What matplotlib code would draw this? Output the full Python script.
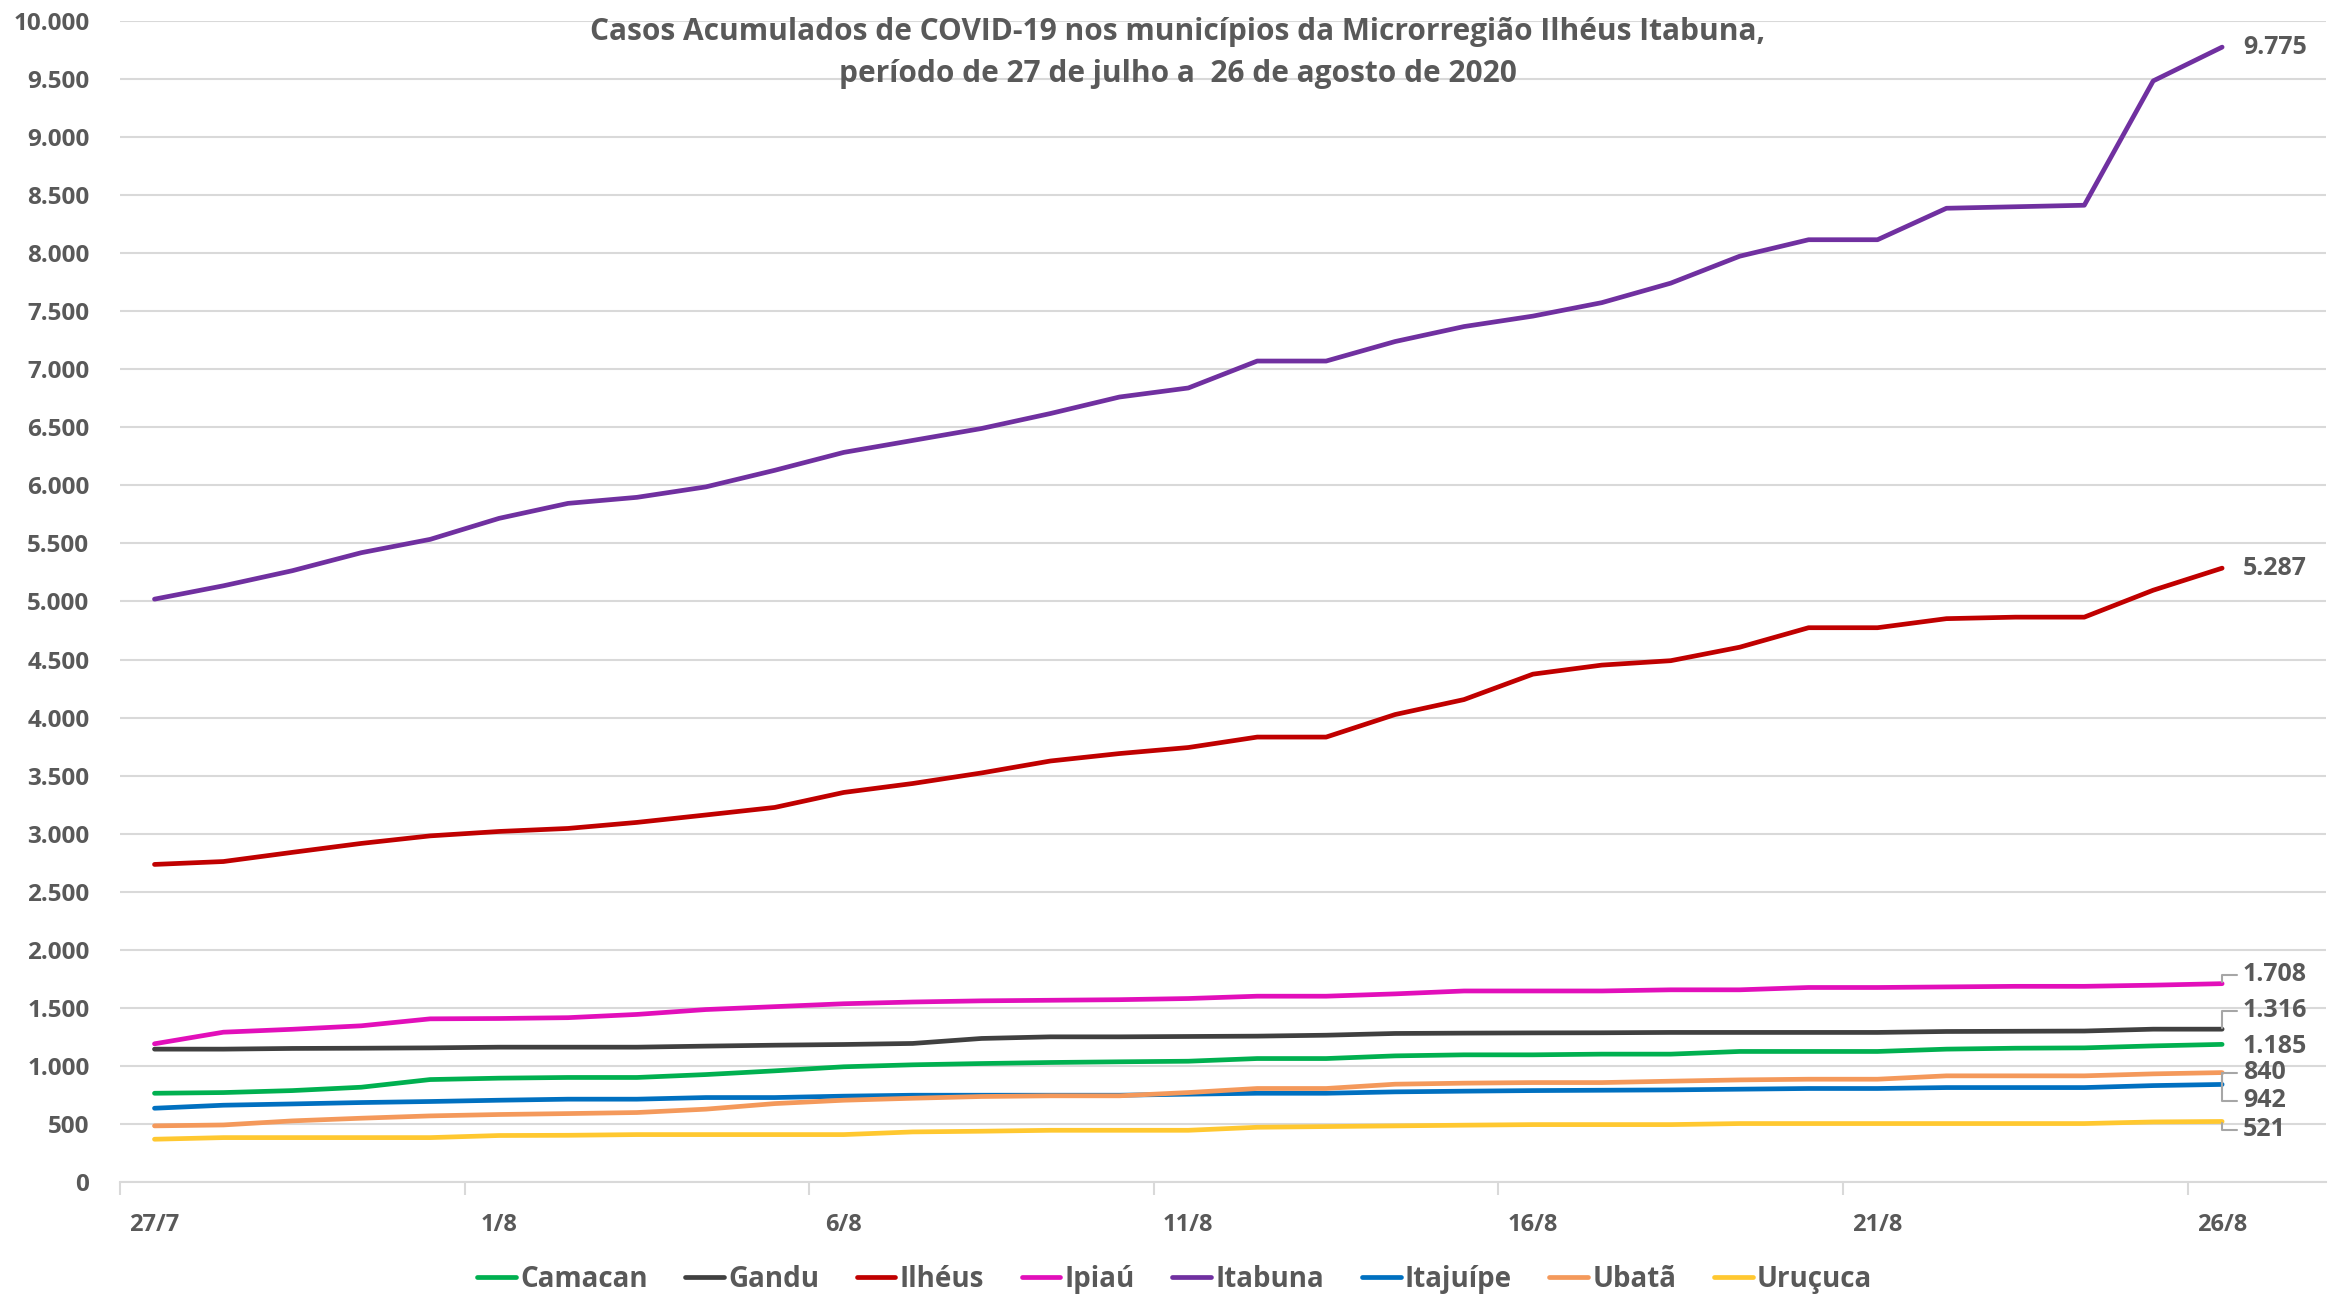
import matplotlib
matplotlib.use("Agg")
import matplotlib.pyplot as plt
from matplotlib.ticker import FixedLocator, FuncFormatter

plt.rcParams['font.family'] = ['Open Sans', 'DejaVu Sans']

dates = ["27/7", "28/7", "29/7", "30/7", "31/7", "1/8", "2/8", "3/8", "4/8", "5/8",
         "6/8", "7/8", "8/8", "9/8", "10/8", "11/8", "12/8", "13/8", "14/8", "15/8",
         "16/8", "17/8", "18/8", "19/8", "20/8", "21/8", "22/8", "23/8", "24/8", "25/8", "26/8"]

camacan = [764, 770, 787, 816, 882, 894, 900, 900, 925, 957, 992, 1009, 1020, 1029, 1035, 1040,
           1063, 1063, 1086, 1095, 1095, 1101, 1101, 1124, 1124, 1124, 1144, 1152, 1155, 1172, 1185]
gandu = [1144, 1144, 1150, 1152, 1155, 1161, 1161, 1161, 1170, 1178, 1184, 1193, 1236, 1250, 1250, 1253,
         1256, 1264, 1279, 1282, 1284, 1285, 1288, 1288, 1288, 1288, 1296, 1298, 1300, 1316, 1316]
ilheus = [2735, 2760, 2839, 2916, 2981, 3019, 3045, 3097, 3161, 3226, 3355, 3432, 3523, 3626, 3690, 3742,
          3832, 3832, 4026, 4155, 4374, 4452, 4490, 4606, 4774, 4774, 4852, 4865, 4865, 5097, 5287]
ipiau = [1190, 1290, 1315, 1345, 1405, 1408, 1415, 1443, 1485, 1510, 1535, 1550, 1560, 1565, 1570, 1580,
         1600, 1600, 1620, 1645, 1645, 1645, 1655, 1655, 1675, 1675, 1680, 1685, 1685, 1695, 1708]
itabuna = [5020, 5135, 5265, 5420, 5535, 5716, 5845, 5897, 5987, 6130, 6284, 6387, 6490, 6619, 6761, 6839,
           7071, 7071, 7239, 7368, 7458, 7574, 7742, 7974, 8116, 8116, 8387, 8400, 8413, 9484, 9775]
itajuipe = [635, 661, 672, 684, 693, 704, 713, 713, 727, 727, 739, 747, 747, 747, 747, 756,
            764, 764, 776, 782, 787, 790, 793, 799, 805, 805, 813, 813, 813, 830, 840]
ubata = [483, 491, 526, 549, 569, 581, 589, 598, 627, 675, 704, 721, 736, 742, 742, 770,
         805, 805, 842, 851, 856, 856, 868, 879, 885, 885, 914, 914, 914, 931, 942]
urucuca = [368, 382, 382, 382, 382, 400, 402, 408, 408, 408, 408, 431, 437, 445, 445, 445,
           471, 477, 483, 489, 494, 494, 494, 503, 503, 503, 503, 503, 503, 517, 521]

series_names = ["Camacan", "Gandu", "Ilhéus", "Ipiaú", "Itabuna", "Itajuípe", "Ubatã", "Uruçuca"]
series_values = [camacan, gandu, ilheus, ipiau, itabuna, itajuipe, ubata, urucuca]
colors = ["#00B050", "#404040", "#C00000", "#E20FBA", "#7030A0", "#0070C0", "#F4995B", "#FFC830"]

end_labels = ["9.775", "5.287", "1.708", "1.316", "1.185", "840", "942", "521"]
end_series = [itabuna, ilheus, ipiau, gandu, camacan, itajuipe, ubata, urucuca]

title = ("Casos Acumulados de COVID-19 nos municípios da Microrregião Ilhéus Itabuna,\n"
         "período de 27 de julho a  26 de agosto de 2020")

TXT = "#595959"
GRID = "#D9D9D9"

fig = plt.figure(figsize=(23.49, 12.96), dpi=100)
ax = fig.add_axes([0.0511, 0.0880, 0.9389, 0.8958])

x = list(range(len(dates)))
for name, vals, c in zip(series_names, series_values, colors):
    ax.plot(x, vals, color=c, lw=3.4, label=name, solid_joinstyle='round', solid_capstyle='round', zorder=3)

ax.set_xlim(-0.5, 31.5)
ax.set_ylim(0, 10000)
ax.set_yticks(range(0, 10001, 500))
ax.yaxis.set_major_formatter(FuncFormatter(lambda v, p: f"{int(v):,}".replace(",", ".")))
ax.grid(axis='y', color=GRID, lw=1.5, zorder=0)
ax.set_axisbelow(True)

ax.set_xticks(list(range(0, 31, 5)))
ax.set_xticklabels([dates[i] for i in range(0, 31, 5)])
ax.xaxis.set_minor_locator(FixedLocator([i - 0.5 for i in range(0, 31, 5)]))
ax.tick_params(axis='x', which='major', length=0, pad=22, labelsize=17, labelcolor=TXT)
ax.tick_params(axis='x', which='minor', length=9, width=1.5, color=GRID)
ax.tick_params(axis='y', length=0, pad=22, labelsize=17.5, labelcolor=TXT)
for lbl in ax.get_xticklabels() + ax.get_yticklabels():
    lbl.set_fontweight('bold')

for s in ['left', 'right', 'top']:
    ax.spines[s].set_visible(False)
ax.spines['bottom'].set_color(GRID)
ax.spines['bottom'].set_linewidth(1.5)

ax.text(14.85, 9725, title, ha='center', va='center', fontsize=21.5, fontweight='bold',
        color=TXT, linespacing=1.55)

# end labels
last = len(dates) - 1
lab_y = {"9.775": None, "5.287": None, "1.708": 1784, "1.316": 1474, "1.185": 1164,
         "840": 940, "942": 698, "521": 448}
leader = {"1.708", "1.316", "840", "942", "521"}
for txt, vals in zip(end_labels, end_series):
    v = vals[last]
    ty = lab_y[txt] if lab_y[txt] is not None else v
    if txt in leader:
        ax.annotate(txt, xy=(last, v), xytext=(last + 0.3, ty), textcoords='data',
                    ha='left', va='center', fontsize=18, fontweight='bold', color=TXT,
                    arrowprops=dict(arrowstyle='-', color='#A6A6A6', lw=1.5,
                                    connectionstyle='angle,angleA=0,angleB=90,rad=0',
                                    shrinkA=2, shrinkB=1))
    else:
        ax.annotate(txt, xy=(last, v), xytext=(last + 0.3, ty), textcoords='data',
                    ha='left', va='center', fontsize=18, fontweight='bold', color=TXT)

leg = fig.legend(loc='center', bbox_to_anchor=(0.5, 0.013), ncol=8, frameon=False,
                 fontsize=20, handlelength=1.4, handletextpad=0.15, columnspacing=1.35)
for t in leg.get_texts():
    t.set_color(TXT)
    t.set_fontweight('bold')

fig.savefig("out.png", dpi=100)
